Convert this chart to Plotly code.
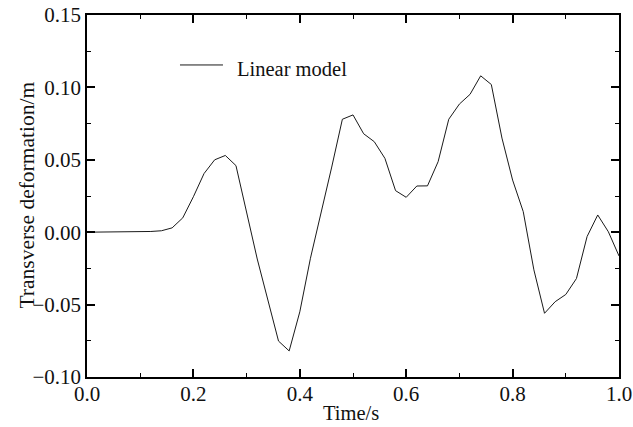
import plotly.graph_objects as go

time_s = [0.00, 0.02, 0.04, 0.06, 0.08, 0.10, 0.12, 0.14, 0.16, 0.18, 0.20,
          0.22, 0.24, 0.26, 0.28, 0.32, 0.36, 0.38, 0.40, 0.42, 0.44, 0.46,
          0.48, 0.50, 0.52, 0.54, 0.56, 0.58, 0.60, 0.62, 0.64, 0.66, 0.68,
          0.70, 0.72, 0.74, 0.76, 0.78, 0.80, 0.82, 0.84, 0.86, 0.88, 0.90,
          0.92, 0.94, 0.96, 0.98, 1.00]
deformation_m = [0.0, 0.0, 0.0, 0.0, 0.0, 0.0, 0.0005, 0.001, 0.003, 0.0099, 0.0245,
                 0.0405, 0.050, 0.053, 0.046, -0.0185, -0.0752, -0.0820, -0.055, -0.018, 0.013, 0.045,
                 0.078, 0.081, 0.068, 0.0625, 0.051, 0.0287, 0.0241, 0.0319, 0.032, 0.0487, 0.078,
                 0.0885, 0.0952, 0.108, 0.102, 0.065, 0.036, 0.0142, -0.026, -0.056, -0.048, -0.043,
                 -0.032, -0.003, 0.0119, 0.0003, -0.0164]

series_name = "Linear model"
x_title = "Time/s"
y_title = "Transverse deformation/m"
x_ticks = [0.0, 0.2, 0.4, 0.6, 0.8, 1.0]
x_tick_labels = ["0.0", "0.2", "0.4", "0.6", "0.8", "1.0"]
y_ticks = [-0.10, -0.05, 0.00, 0.05, 0.10, 0.15]
y_tick_labels = ["\u22120.10", "\u22120.05", "0.00", "0.05", "0.10", "0.15"]

FONT = "Liberation Serif, Times New Roman, serif"
TXT = "#111111"
LINE = "#1a1a1a"

fig = go.Figure()
fig.add_trace(go.Scatter(x=time_s, y=deformation_m, mode="lines", name=series_name,
                         showlegend=False, line=dict(color=LINE, width=1)))

axis_common = dict(showline=True, linecolor="black", linewidth=1.6, mirror="ticks",
                   ticks="inside", ticklen=8, tickwidth=1.6, tickcolor="black",
                   showgrid=False, zeroline=False, automargin=False,
                   ticklabeloverflow="allow",
                   tickfont=dict(family=FONT, size=21, color=TXT))

fig.update_xaxes(range=[0, 1.0], tickvals=x_ticks, ticktext=x_tick_labels,
                 ticklabelstandoff=-3,
                 minor=dict(dtick=0.1, ticks="inside", ticklen=4, tickwidth=1.4,
                            tickcolor="black", showgrid=False),
                 **axis_common)
fig.update_yaxes(range=[-0.10, 0.15], tickvals=y_ticks, ticktext=y_tick_labels,
                 minor=dict(dtick=0.025, ticks="inside", ticklen=4, tickwidth=1.4,
                            tickcolor="black", showgrid=False),
                 **axis_common)

# legend drawn as a sample line plus its label
fig.add_shape(type="line", xref="paper", yref="paper", x0=0.1748, x1=0.2556,
              y0=0.862, y1=0.862, line=dict(color=LINE, width=1))
fig.add_annotation(text=series_name, xref="paper", yref="paper", x=0.279, y=0.851,
                   xanchor="left", yanchor="middle", showarrow=False,
                   font=dict(family=FONT, size=20.5, color=TXT))
# axis titles
fig.add_annotation(text=x_title, xref="paper", yref="paper", x=0.497, y=-0.1,
                   xanchor="center", yanchor="middle", showarrow=False,
                   font=dict(family=FONT, size=20.5, color=TXT))
fig.add_annotation(text=y_title, xref="paper", yref="paper", x=-0.1128, y=0.504,
                   xanchor="center", yanchor="middle", textangle=-90, showarrow=False,
                   font=dict(family=FONT, size=21.5, color=TXT))

fig.update_layout(width=633, height=427,
                  margin=dict(l=87, r=14, t=15, b=50, autoexpand=False),
                  plot_bgcolor="white", paper_bgcolor="white", showlegend=False)

fig.write_html("out.html", config={"displayModeBar": False},
               post_script="document.body.style.margin='0';document.body.style.overflow='hidden';")
